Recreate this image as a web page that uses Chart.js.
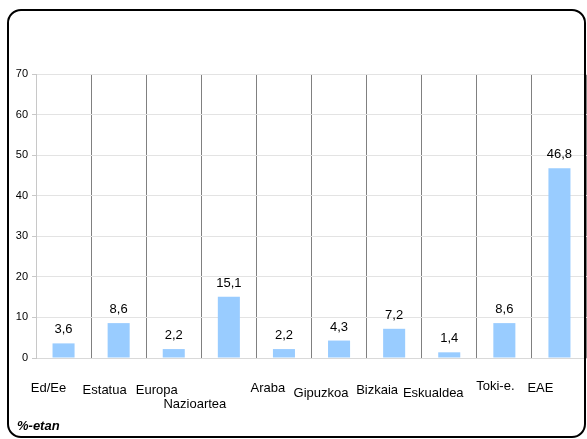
<!DOCTYPE html>
<html>
<head>
<meta charset="utf-8">
<script src="https://cdn.jsdelivr.net/npm/chart.js@4"></script>
<style>
  html, body { margin: 0; padding: 0; background: #fff; }
  #wrap { position: relative; width: 587px; height: 439px; }
  #frame {
    position: absolute; left: 7px; top: 9px; width: 575px; height: 425px;
    border: 2px solid #000; border-radius: 14px; pointer-events: none;
  }
  #unit {
    position: absolute; left: 17px; top: 418px;
    font: italic bold 13px "Liberation Sans", Arial, sans-serif; color: #000;
  }
</style>
</head>
<body>
<div id="wrap">
  <canvas id="chart" width="587" height="439"></canvas>
  <div id="frame"></div>
  <div id="unit">%-etan</div>
</div>
<script>
const categories = ['Ed/Ee', 'Estatua', 'Europa', 'Nazioartea', 'Araba', 'Gipuzkoa', 'Bizkaia', 'Eskualdea', 'Toki-e.', 'EAE']
const values = [3.6, 8.6, 2.2, 15.1, 2.2, 4.3, 7.2, 1.4, 8.6, 46.8]
const yTicks = [0, 10, 20, 30, 40, 50, 60, 70]

// staggered category labels, offsets from the category centre (px)
const labelDx = [-15, -14, -17, -34, -16, -18, -17, -16, -9, -19]
const labelDy = [30, 32, 32, 46, 30, 35, 32, 35, 28, 30]

const FONT = '"Liberation Sans", Arial, sans-serif'

const labelsPlugin = {
  id: 'labels',
  afterDatasetsDraw(chart) {
    const ctx = chart.ctx
    const x = chart.scales.x
    const y = chart.scales.y
    const meta = chart.getDatasetMeta(0)
    ctx.save()
    ctx.fillStyle = '#000'
    ctx.textAlign = 'center'
    ctx.font = '13px ' + FONT
    ctx.textBaseline = 'alphabetic'
    meta.data.forEach((bar, i) => {
      ctx.fillText(values[i].toFixed(1).replace('.', ','), bar.x, bar.y - 10)
    })
    ctx.textBaseline = 'middle'
    categories.forEach((c, i) => {
      ctx.fillText(c, x.getPixelForValue(i) + labelDx[i], y.bottom + labelDy[i])
    })
    ctx.restore()
  }
}

new Chart(document.getElementById('chart'), {
  type: 'bar',
  data: {
    labels: categories,
    datasets: [{
      data: values,
      backgroundColor: '#99ccff',
      borderWidth: 0,
      categoryPercentage: 1,
      barPercentage: 0.4
    }]
  },
  options: {
    responsive: false,
    animation: false,
    events: [],
    layout: { padding: { top: 74, bottom: 81, left: 0, right: 0 } },
    plugins: { legend: { display: false }, tooltip: { enabled: false } },
    scales: {
      x: {
        offset: true,
        grid: {
          offset: true,
          color: ctx => ctx.index === 0 ? '#c8c8c8' : '#808080',
          tickLength: 0
        },
        border: { color: '#d9d9d9' },
        ticks: { display: false },
        afterFit: s => { s.height = 0 }
      },
      y: {
        min: 0,
        max: 70,
        afterBuildTicks: s => { s.ticks = yTicks.map(v => ({ value: v })) },
        grid: { color: '#e3e3e3', tickLength: 4, tickColor: '#c8c8c8' },
        border: { color: '#c8c8c8' },
        ticks: { color: '#000', padding: 4, font: { family: FONT, size: 11 } },
        afterFit: s => { s.width = 36 }
      }
    }
  },
  plugins: [labelsPlugin]
})
</script>
</body>
</html>
